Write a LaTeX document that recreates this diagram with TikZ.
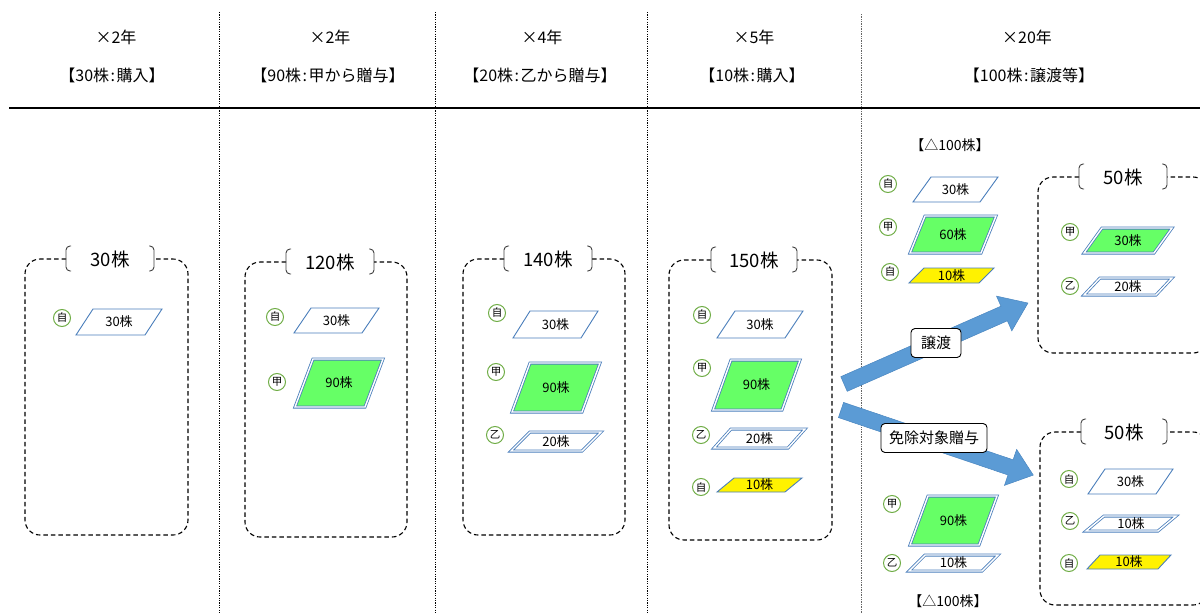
\documentclass[tikz,border=0pt]{standalone}
\usepackage{fontspec}
\setmainfont{Noto Sans CJK JP}
\definecolor{pblue}{HTML}{4A7EBB}
\definecolor{pgreen}{HTML}{66FF66}
\definecolor{cgreen}{HTML}{70AD47}
\definecolor{ablue}{HTML}{5B9BD5}
\definecolor{ablued}{HTML}{4A86C0}
\newcommand\cln{\hspace{1.5pt}:\hspace{1.5pt}}
\tikzset{
 dbx/.style={dash pattern=on 4.5pt off 3pt, line width=1.1pt, rounded corners=15pt},
 brk/.style={line width=0.9pt, draw=black!75, rounded corners=4pt},
 ttl/.style={font=\fontsize{18.5}{18.5}\selectfont, inner sep=0pt},
 hdr/.style={font=\fontsize{16}{16}\selectfont, inner sep=0pt},
 ptxt/.style={font=\fontsize{13}{13}\selectfont, inner sep=0pt},
 circ/.style={circle, draw=cgreen, line width=1pt, minimum size=17pt, inner sep=0pt, font=\fontsize{10.5}{10.5}\selectfont},
 wpl/.style={draw=pblue, line width=0.9pt, fill=white},
 grn/.style={draw=pblue, double=white, double distance=1.4pt, line width=0.8pt, fill=pgreen},
 dbl/.style={draw=pblue, double=white, double distance=1.4pt, line width=0.8pt, fill=white},
 ylw/.style={draw=pblue, line width=0.9pt, fill=yellow},
 vsep/.style={dash pattern=on 1.2pt off 1.2pt, line width=0.9pt},
 lbl/.style={draw, rounded corners=4pt, fill=white, line width=0.9pt, font=\fontsize{15}{15}\selectfont, minimum height=29pt, inner xsep=3pt},
 arr/.style={fill=ablue, draw=ablued, line width=0.5pt},
 sub/.style={font=\fontsize{14}{14}\selectfont, inner sep=0pt}
}
% parallelogram: style, name, x bottom-left, y bottom, x top-left, y top, width, text
\newcommand\plg[8]{%
 \draw[#1] (#3,#4) -- (#5,#6) -- ({#5+#7},#6) -- ({#3+#7},#4) -- cycle;
 \node[ptxt] (#2) at ({(#3+#5+#7)/2},{(#4+#6)/2}) {#8};
}
% dashed box: left, top, right, bottom, bracket-left x, bracket-right x, name, title
\newcommand\dbox[8]{%
 \draw[dbx] (#5,#2) -- (#1,#2) -- (#1,#4) -- (#3,#4) -- (#3,#2) -- (#6,#2);
 \draw[brk] ({#5+5},{#2-13}) -- (#5,{#2-13}) -- (#5,{#2+12}) -- ({#5+5},{#2+12});
 \draw[brk] ({#6-5},{#2-13}) -- (#6,{#2-13}) -- (#6,{#2+12}) -- ({#6-5},{#2+12});
 \node[ttl] (#7) at ({(#5+#6)/2},#2) {#8};
}
\begin{document}
\begin{tikzpicture}[x=1pt,y=-1pt]
\useasboundingbox (0,0) rectangle (1200,613);
\begin{scope}
\clip (0,0) rectangle (1200,613);
% separators
\coordinate (s1t) at (219,12); \coordinate (s1b) at (219,613);
\coordinate (s2t) at (435,12); \coordinate (s2b) at (435,613);
\coordinate (s3t) at (647,12); \coordinate (s3b) at (647,613);
\coordinate (s4t) at (861,14); \coordinate (s4b) at (861,613);
\draw[vsep] (s1t) -- (s1b);
\draw[vsep] (s2t) -- (s2b);
\draw[vsep] (s3t) -- (s3b);
\draw[vsep, draw=black!60, dash pattern=on 1pt off 0.7pt] (s4t) -- (s4b);
\coordinate (hl) at (9,108); \coordinate (hr) at (1200,108);
\draw[line width=2.8pt] (hl) -- (hr);
% headers
\node[hdr] (h1a) at (116,37) {×2年};
\node[hdr] (h1b) at (112,75) {【30株\cln 購入】};
\node[hdr] (h2a) at (330,37) {×2年};
\node[hdr] (h2b) at (328,75) {【90株\cln 甲から贈与】};
\node[hdr] (h3a) at (542,37) {×4年};
\node[hdr] (h3b) at (540,75) {【20株\cln 乙から贈与】};
\node[hdr] (h4a) at (754,37) {×5年};
\node[hdr] (h4b) at (752,75) {【10株\cln 購入】};
\node[hdr] (h5a) at (1027,37) {×20年};
\node[hdr] (h5b) at (1029,75) {【100株\cln 譲渡等】};
% boxes
\dbox{25}{259}{188}{535}{66}{154}{b1}{30株}
\dbox{245}{262}{407}{537}{286}{374}{b2}{120株}
\dbox{463}{259}{625}{535}{504}{592}{b3}{140株}
\dbox{669}{260}{832}{540}{711}{797}{b4}{150株}
\dbox{1038}{177}{1208}{353}{1079}{1167}{b5}{50株}
\dbox{1040}{432}{1208}{605}{1081}{1167}{b6}{50株}
% column 1
\node[circ] (c1a) at (62,318) {自};
\plg{wpl}{p1a}{76}{335}{93}{309}{69}{30株}
% column 2
\node[circ] (c2a) at (275,317) {自};
\node[circ] (c2b) at (277,382) {甲};
\plg{wpl}{p2a}{294}{333}{311}{308}{68}{30株}
\plg{grn}{p2b}{295}{407}{313}{359}{70}{90株}
% column 3
\node[circ] (c3a) at (497,313) {自};
\node[circ] (c3b) at (496,372) {甲};
\node[circ] (c3c) at (495,435) {乙};
\plg{wpl}{p3a}{513}{338}{530}{311}{68}{30株}
\plg{grn}{p3b}{512}{412}{530}{363}{70}{90株}
\plg{dbl}{p3c}{511}{451}{530}{432}{71}{20株}
% column 4
\node[circ] (c4a) at (702,315) {自};
\node[circ] (c4b) at (702,368) {甲};
\node[circ] (c4c) at (701,435) {乙};
\node[circ] (c4d) at (701,487) {自};
\plg{wpl}{p4a}{717}{338}{735}{311}{68}{30株}
\plg{grn}{p4b}{713}{410}{731}{360}{69}{90株}
\plg{dbl}{p4c}{714}{448}{731}{429}{74}{20株}
\plg{ylw}{p4d}{717}{492}{734}{478}{68}{10株}
% column 5 upper left
\node[sub] (n1) at (950,145) {【△100株】};
\node[circ] (c5a) at (888,184) {自};
\node[circ] (c5b) at (888,227) {甲};
\node[circ] (c5c) at (890,272) {自};
\plg{wpl}{p5a}{913}{202}{931}{177}{67}{30株}
\plg{grn}{p5b}{910}{253}{925}{216}{71}{60株}
\plg{ylw}{p5c}{909}{283}{924}{268}{70}{10株}
% top right box
\node[circ] (c6a) at (1070,232) {甲};
\node[circ] (c6b) at (1070,286) {乙};
\plg{grn}{p6a}{1084}{253}{1102}{228}{70}{30株}
\plg{dbl}{p6b}{1084}{295}{1100}{278}{72}{20株}
% bottom right box
\node[circ] (c7a) at (1069,479) {自};
\node[circ] (c7b) at (1070,521) {乙};
\node[circ] (c7c) at (1069,563) {自};
\plg{wpl}{p7a}{1088}{494}{1105}{469}{68}{30株}
\plg{dbl}{p7b}{1086}{531}{1104}{516}{72}{10株}
\plg{ylw}{p7c}{1087}{569}{1100}{555}{71}{10株}
% column 5 lower left
\node[circ] (c8a) at (892,504) {甲};
\node[circ] (c8b) at (892,563) {乙};
\plg{grn}{p8a}{910}{545}{928}{496}{69}{90株}
\plg{dbl}{p8b}{909}{571}{925}{555}{73}{10株}
\node[sub] (n2) at (948,601) {【△100株】};
% block arrows
\coordinate (a1s) at (844,384); \coordinate (a1e) at (1028,303);
\begin{scope}[shift={(a1s)}, rotate=23.76]
\draw[arr] (0,-8) -- (175,-8) -- (175,-19) -- (201,0) -- (175,19) -- (175,8) -- (0,8) -- cycle;
\end{scope}
\coordinate (a2s) at (841,410); \coordinate (a2e) at (1033,475);
\begin{scope}[shift={(a2s)}, rotate=-18.7]
\draw[arr] (0,-8) -- (179,-8) -- (179,-19) -- (203,0) -- (179,19) -- (179,8) -- (0,8) -- cycle;
\end{scope}
\node[lbl, minimum width=50pt] (l1) at (936,343) {譲渡};
\node[lbl, minimum width=106pt] (l2) at (934,438) {免除対象贈与};
\end{scope}
\end{tikzpicture}
\end{document}
